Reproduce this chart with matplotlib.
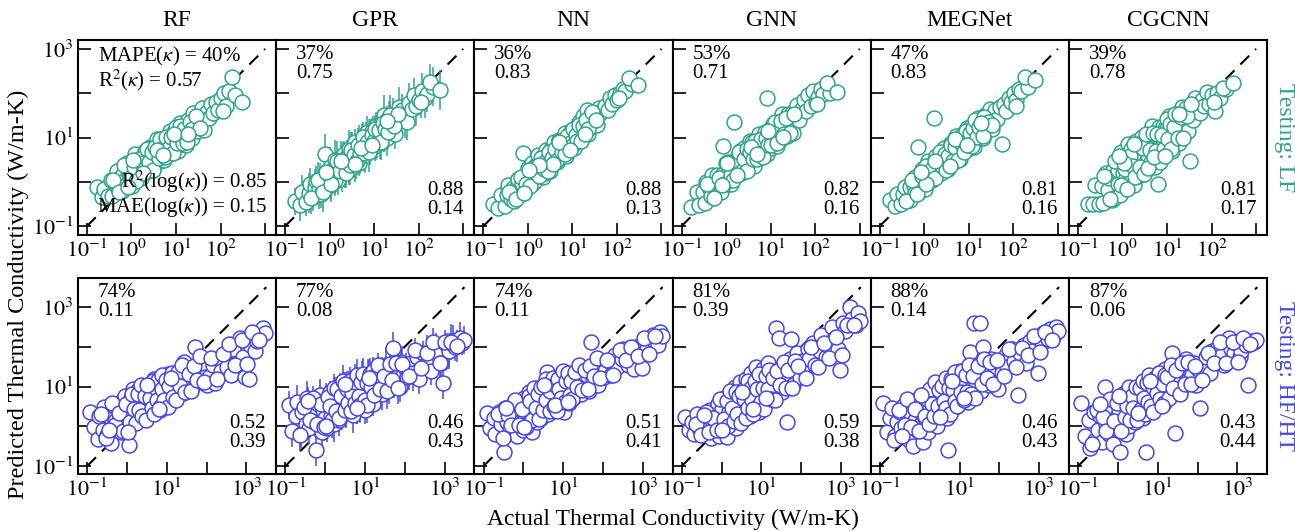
import numpy as np
import matplotlib.pyplot as plt
from matplotlib.ticker import FixedLocator, FixedFormatter, NullLocator

plt.rcParams['font.family'] = ['Liberation Serif', 'DejaVu Serif']
plt.rcParams['mathtext.fontset'] = 'stix'

models = ['RF', 'GPR', 'NN', 'GNN', 'MEGNet', 'CGCNN']

# metrics: MAPE(k), R2(k), R2(log k), MAE(log k)
lf_mape = ['40%', '37%', '36%', '53%', '47%', '39%']
lf_r2 = ['0.57', '0.75', '0.83', '0.71', '0.83', '0.78']
lf_r2log = ['0.85', '0.88', '0.88', '0.82', '0.81', '0.81']
lf_maelog = ['0.15', '0.14', '0.13', '0.16', '0.16', '0.17']
hf_mape = ['74%', '77%', '74%', '81%', '88%', '87%']
hf_r2 = ['0.11', '0.08', '0.11', '0.39', '0.14', '0.06']
hf_r2log = ['0.52', '0.46', '0.51', '0.59', '0.46', '0.43']
hf_maelog = ['0.39', '0.43', '0.41', '0.38', '0.43', '0.44']

# LF test set, log10 of actual conductivity (same for every model)
lf_x = [-0.78, -0.66, -0.61, -0.52, -0.47, -0.44, -0.37, -0.33, -0.31, -0.24,
        -0.21, -0.2, -0.14, -0.11, -0.09, -0.06, -0.03, 0.01, 0.02, 0.07,
        0.09, 0.12, 0.13, 0.17, 0.19, 0.22, 0.26, 0.27, 0.31, 0.33,
        0.34, 0.38, 0.41, 0.43, 0.44, 0.49, 0.51, 0.53, 0.56, 0.58, 0.59, 0.63, 0.66,
        0.67, 0.71, 0.72, 0.74, 0.79, 0.81, 0.83, 0.86, 0.88, 0.91, 0.92, 0.96,
        0.98, 1.01, 1.04, 1.05, 1.09, 1.12, 1.14, 1.17, 1.21, 1.23, 1.26,
        1.29, 1.33, 1.36, 1.38, 1.42, 1.47, 1.51, 1.55, 1.59, 1.63, 1.7,
        1.74, 1.79, 1.84, 1.9, 1.95, 2.01, 2.07, 2.13, 2.18, 2.05, 2.33, 2.26, 2.48,
        -0.42, -0.27, -0.16, -0.04, 0.05, 0.11, 0.16, 0.24, 0.29, 0.36,
        0.4, 0.46, 0.48, 0.54, 0.61, 0.64, 0.69, 0.76, 0.78, 0.84,
        0.89, 0.94, 0.99, 1.02, 1.07, 1.1, 1.15, 1.19, 1.24, 1.31,
        1.35, 1.44, 1.53, 0.57, 0.25, 0.7, 0.95, 0.03, 1.28, -0.08]

# predicted, log10
lf_rf = [-0.12, -0.35, -0.16, -0.33, 0.05, -0.33, -0.05, 0.25, -0.15, 0.1,
         -0.21, 0.17, 0.05, 0.42, -0.05, 0.18, 0.4, -0.09, 0.3, 0.13,
         0.62, 0.27, 0.08, 0.48, 0.39, 0.09, 0.58, 0.32, 0.69, 0.3,
         0.56, 0.24, 0.79, 0.46, 0.68, 0.27, 0.62, 0.82, 0.48, 0.97, 0.62, 0.47, 0.82,
         0.96, 0.63, 0.74, 0.49, 0.97, 0.87, 0.66, 1.15, 0.78, 1.02, 0.65, 1.12,
         0.82, 1.18, 0.7, 1.07, 1.32, 0.99, 0.86, 1.24, 1.13, 0.82, 1.4,
         1.07, 1.32, 1.0, 1.56, 1.32, 1.15, 1.53, 1.31, 1.67, 1.17, 1.58,
         1.45, 1.75, 1.55, 1.8, 1.62, 1.9, 2.0, 1.7, 2.05, 1.6, 1.95, 2.37, 1.8,
         0.03, -0.22, 0.39, 0.09, 0.34, 0.01, 0.52, 0.42, 0.26, 0.73,
         0.45, 0.67, 0.26, 0.79, 0.54, 0.96, 0.74, 0.57, 1.01, 0.77,
         1.01, 0.65, 1.24, 0.87, 1.06, 1.27, 0.88, 1.19, 0.89, 1.34,
         1.19, 1.48, 1.21, 0.71, 0.19, 0.61, 1.09, 0.5, 1.08, -0.12]
lf_gpr = [-0.44, -0.53, -0.24, -0.46, -0.26, -0.04, -0.35, -0.11, 0.01, -0.17,
          0.02, -0.28, 0.03, 0.62, -0.13, 0.23, -0.01, 0.33, -0.08, 0.2,
          0.32, 0.05, 0.49, 0.2, 0.05, 0.39, 0.53, 0.22, 0.37, 0.63,
          0.22, 0.55, 0.41, 0.73, 0.27, 0.59, 0.73, 0.45, 0.61, 0.89, 0.46, 0.75, 0.43,
          0.84, 0.72, 0.95, 0.65, 0.6, 0.89, 1.13, 0.8, 1.01, 0.72, 0.96, 1.14,
          1.08, 0.81, 1.27, 0.94, 1.11, 0.87, 1.28, 1.13, 1.51, 1.03, 1.31,
          0.99, 1.47, 1.32, 1.13, 1.5, 1.09, 1.49, 1.68, 1.38, 1.63, 1.4,
          1.35, 1.78, 1.65, 1.95, 1.7, 1.85, 2.05, 1.9, 1.98, 1.8, 2.15, 2.26, 2.08,
          -0.37, 0.04, -0.24, 0.18, 0.14, 0.04, 0.46, 0.25, 0.5, 0.2,
          0.53, 0.38, 0.72, 0.6, 0.46, 0.82, 0.63, 1.01, 0.65, 0.9,
          0.68, 1.05, 0.93, 1.2, 0.88, 1.17, 0.89, 1.33, 1.19, 1.13,
          1.51, 1.27, 1.53, 0.4, 0.48, 0.76, 0.82, -0.05, 1.37, 0.23]
lf_gpr_err = [0.3, 0.35, 0.4, 0.3, 0.45, 0.35, 0.3, 0.4, 0.35, 0.45,
              0.4, 0.3, 0.35, 0.45, 0.3, 0.4, 0.35, 0.45, 0.3, 0.4,
              0.35, 0.3, 0.45, 0.4, 0.35, 0.3, 0.4, 0.45, 0.35, 0.3,
              0.35, 0.4, 0.3, 0.45, 0.35, 0.3, 0.4, 0.35, 0.45, 0.3, 0.4, 0.35, 0.3,
              0.45, 0.4, 0.35, 0.3, 0.4, 0.45, 0.35, 0.3, 0.4, 0.35, 0.45, 0.3,
              0.4, 0.35, 0.3, 0.45, 0.4, 0.35, 0.3, 0.4, 0.45, 0.35, 0.3,
              0.4, 0.35, 0.45, 0.3, 0.4, 0.35, 0.3, 0.45, 0.4, 0.35, 0.4,
              0.4, 0.45, 0.35, 0.4, 0.45, 0.35, 0.4, 0.45, 0.4, 0.35, 0.45, 0.4, 0.45,
              0.35, 0.4, 0.45, 0.3, 0.4, 0.35, 0.45, 0.3, 0.4, 0.35,
              0.3, 0.45, 0.4, 0.35, 0.3, 0.4, 0.45, 0.35, 0.4, 0.3,
              0.45, 0.35, 0.4, 0.3, 0.35, 0.45, 0.4, 0.3, 0.35, 0.4,
              0.45, 0.35, 0.3, 0.4, 0.35, 0.45, 0.3, 0.4, 0.35, 0.45]
lf_nn = [-0.5, -0.6, -0.29, -0.55, -0.3, -0.07, -0.39, -0.13, -0.44, -0.12,
         0.06, -0.28, -0.03, 0.66, -0.25, 0.12, -0.03, 0.31, -0.03, 0.11,
         0.43, -0.02, 0.25, 0.01, 0.37, 0.6, 0.17, 0.35, 0.56, 0.1,
         0.46, 0.2, 0.71, 0.37, 0.6, 0.24, 0.57, 0.74, 0.43, 0.9, 0.54, 0.75, 0.44,
         0.71, 0.95, 0.61, 0.91, 0.6, 0.88, 1.11, 0.59, 0.86, 1.04, 0.78, 1.15,
         0.8, 1.08, 0.76, 1.22, 1.07, 0.96, 1.35, 0.93, 1.24, 1.48, 1.11,
         1.38, 1.63, 1.08, 1.37, 1.54, 1.28, 1.54, 1.28, 1.66, 1.55, 1.66,
         1.7, 1.62, 1.9, 1.75, 1.95, 1.85, 2.0, 2.1, 2.05, 1.88, 2.2, 2.35, 2.19,
         -0.22, -0.38, 0.1, -0.04, -0.1, 0.31, 0.24, 0.13, 0.54, 0.28,
         0.48, 0.25, 0.67, 0.53, 0.75, 0.46, 0.92, 0.67, 0.87, 0.62,
         1.03, 0.87, 0.8, 1.19, 1.05, 0.92, 1.29, 0.92, 1.27, 1.4,
         1.19, 1.57, 1.4, 0.41, 0.38, 0.89, 0.72, 0.26, 1.09, -0.26]
lf_gnn = [-0.56, -0.24, -0.52, -0.22, -0.48, 0.0, -0.17, -0.31, 0.16, -0.13,
          0.16, -0.23, 0.05, -0.22, 0.16, 0.8, -0.01, 0.43, -0.06, 0.24,
          0.38, -0.06, 0.33, 1.34, 0.26, 0.16, 0.59, 0.27, 0.7, 0.2,
          0.21, 0.59, 0.77, 0.39, 0.54, 0.29, 0.75, 0.92, 0.45, 0.61, 0.9, 0.36, 0.78,
          0.91, 0.67, 0.53, 1.07, 0.87, 0.59, 1.01, 0.75, 1.12, 1.9, 0.62, 1.06,
          1.15, 0.76, 1.05, 1.31, 0.9, 1.17, 0.81, 1.33, 1.15, 0.97, 1.52,
          1.12, 1.4, 1.03, 1.54, 1.28, 1.55, 1.1, 1.54, 1.73, 1.39, 1.64,
          1.85, 1.6, 1.95, 1.7, 2.05, 1.8, 1.92, 2.1, 1.98, 1.75, 2.0, 2.24, 2.03,
          -0.04, -0.36, 0.08, -0.06, 0.44, 0.16, 0.04, 0.47, 0.67, 0.25,
          0.51, 0.73, 0.25, 0.68, 0.52, 0.92, 0.51, 0.77, 0.96, 0.57,
          1.0, 0.84, 1.2, 0.83, 1.11, 1.36, 0.88, 1.17, 1.37, 1.09,
          1.43, 1.1, 1.52, 0.78, 0.15, 0.62, 1.15, 0.43, 1.01, -0.07]
lf_megnet = [-0.4, -0.55, -0.28, -0.5, -0.28, -0.11, -0.4, -0.11, -0.41, -0.09,
             -0.25, 0.1, 0.78, -0.22, 0.08, 0.28, -0.05, -0.16, 0.25, 0.14,
             0.46, 0.07, 0.29, 0.03, 0.42, 1.45, 0.23, 0.58, 0.17, 0.42,
             0.5, 0.21, 0.69, 0.41, 0.77, 0.36, 0.58, 0.3, 0.75, 0.59, 0.88, 0.51, 0.81,
             0.45, 0.78, 1.04, 0.63, 0.98, 0.51, 0.86, 1.09, 0.7, 0.98, 0.84, 1.22,
             0.74, 1.07, 1.25, 0.9, 1.09, 0.79, 1.28, 1.06, 1.44, 0.98, 1.31,
             1.22, 1.0, 1.5, 1.39, 1.18, 1.65, 1.19, 1.49, 1.63, 1.41, 1.68,
             0.85, 1.75, 1.6, 1.9, 1.8, 2.0, 1.85, 2.1, 2.05, 1.7, 2.15, 2.37, 2.3,
             -0.43, 0.04, -0.28, 0.14, 0.36, 0.06, 0.27, 0.09, 0.5, 0.68,
             0.35, 0.62, 0.26, 0.58, 0.84, 0.48, 0.79, 0.49, 0.95, 0.86,
             0.68, 1.15, 0.89, 1.1, 0.8, 1.21, 1.39, 1.01, 1.23, 1.03,
             1.47, 1.35, 1.29, 0.36, 0.48, 0.96, 0.82, -0.05, 1.33, 0.23]
lf_cgcnn = [-0.5, -0.51, -0.07, -0.49, -0.1, -0.47, 0.19, -0.18, 0.09, -0.4,
            0.27, -0.37, 0.48, -0.04, 0.27, -0.3, 0.67, 0.21, -0.08, 0.59,
            0.08, 0.85, -0.04, 0.39, 0.73, 0.14, 0.62, -0.07, 0.91, 0.43,
            0.14, 0.82, 0.4, 1.02, 0.62, 0.17, 0.83, 0.45, 1.08, 0.59, 0.85, 0.34, 1.26,
            0.72, 0.5, 1.06, 0.33, -0.05, 1.24, 0.66, 0.93, 0.6, 1.27, 0.83, 1.22,
            1.18, 0.71, 1.48, 0.94, 1.38, 0.7, 1.22, 1.49, 0.98, 1.25, 0.87,
            1.5, 1.68, 1.16, 1.32, 1.66, 1.15, 0.48, 1.67, 1.4, 1.89, 1.65,
            1.55, 1.85, 1.7, 2.03, 1.75, 1.95, 1.6, 2.0, 1.9, 1.8, 2.1, 2.12, 2.24,
            0.14, -0.38, 0.46, -0.08, 0.29, -0.16, 0.59, 0.35, 0.12, 0.86,
            0.34, 0.76, 0.18, 1.09, 0.72, 0.44, 1.1, 0.7, 1.09, 0.44,
            1.06, 0.75, 1.41, 0.97, 1.31, 0.74, 1.23, 1.54, 0.98, 1.46,
            1.0, 1.49, 1.75, 0.31, 0.86, 0.57, 0.58, 0.42, 1.54, 0.58]

# HF/HT test set, log10 of actual conductivity
hf_x = [-0.92, -0.83, -0.74, -0.7, -0.61, -0.57, -0.49, -0.46, -0.41, -0.33, -0.29,
        -0.26, -0.23, -0.18, -0.16, -0.13, -0.08, -0.06, -0.01, 0.02, 0.04, 0.09, 0.11,
        0.14, 0.19, 0.21, 0.24, 0.29, 0.32, 0.34, 0.37, 0.42, 0.44, 0.47, 0.52,
        0.54, 0.59, 0.61, 0.64, 0.69, 0.71, 0.73, 0.77, 0.81, 0.83, 0.86, 0.91,
        0.93, 0.96, 1.01, 1.03, 1.07, 1.09, 1.14, 1.17, 1.21, 1.24, 1.27, 1.32,
        1.36, 1.42, 1.44, 1.51, 1.53, 1.6, 1.64, 1.71, 1.74, 1.8, 1.87, 1.9, 1.96, 2.02,
        2.06, 2.16, 2.2, 2.31, 2.36, 2.47, 2.51, 2.62, 2.66, 2.78,
        2.83, 2.92, 2.97, 3.06, 3.1, 3.22, 3.27, 3.38, 3.43, 3.48,
        -0.64, -0.52, -0.38, -0.31, -0.21, -0.11, -0.03, 0.07, 0.13, 0.17,
        0.22, 0.27, 0.31, 0.36, 0.39, 0.45, 0.49, 0.56, 0.57, 0.62,
        0.66, 0.67, 0.74, 0.76, 0.79, 0.84, 0.88, 0.89, 0.94, 0.99,
        1.04, 1.06, 1.12, 1.16, 1.19, 1.23, 1.29, 1.34, 1.39, 1.47,
        1.56, 1.62, 1.68, 1.77, 1.84, 1.93, 2.11, 2.25, 2.42, 2.57,
        2.71, 2.88, 3.02, 3.15, 3.32, 0.02, 0.51, 0.8, 1.11, -0.44]

hf_rf = [0.36, -0.01, -0.31, 0.26, -0.09, 0.49, -0.22, 0.25, -0.42, 0.52, 0.14,
         -0.09, 0.47, 0.25, -0.14, 0.63, 0.16, 0.77, 0.09, 0.46, -0.47, 0.7, 0.31,
         0.93, 0.1, 0.67, 0.43, 0.91, 0.23, 0.69, 0.35, 0.93, 0.59, 0.21, 0.89,
         0.75, 0.32, 0.99, 0.55, 1.18, 0.69, 0.45, 0.97, 0.8, 0.41, 1.17, 0.95,
         0.66, 1.16, 0.81, 1.32, 0.59, 1.0, 1.2, 0.74, 1.14, 0.95, 1.35, 0.9,
         1.3, 0.83, 1.62, 1.05, 1.4, 0.95, 1.2, 2.0, 1.1, 1.45, 1.15, 1.6, 1.25, 1.05,
         1.25, 1.55, 1.1, 1.7, 1.4, 1.85, 1.5, 1.3, 1.95, 1.6,
         2.22, 1.75, 1.24, 1.2, 2.05, 1.9, 2.15, 2.3, 2.47, 2.35,
         0.3, -0.29, 0.59, 0.03, 0.33, -0.13, 0.55, 0.11, 0.82, 0.44,
         0.09, 0.82, 0.4, 1.03, 0.26, 0.75, 0.17, 1.01, 0.71, 0.47,
         1.13, 0.32, 0.96, 0.67, 1.16, 0.49, 0.95, 1.3, 0.67, 1.17,
         0.48, 1.01, 1.33, 0.74, 1.18, 0.65, 1.36, 1.01, 1.55, 0.86,
         1.31, 0.88, 1.52, 1.17, 1.76, 1.11, 1.71, 1.19, 1.83, 2.06,
         1.54, 2.18, 1.56, 2.38, 2.18, -0.14, 1.03, 0.44, 1.21, -0.09]
hf_gpr = [0.53, -0.12, 0.25, 0.6, -0.2, 0.35, 0.05, 0.7, -0.05, 0.4, 0.12,
          0.3, -0.6, 0.55, 0.1, 0.78, -0.15, 0.42, 0.2, 0.68, -0.05, 0.5, 0.85,
          0.25, 0.6, 0.05, 0.95, 0.4, 0.72, 0.15, 0.88, 0.3, 1.02, 0.55, 0.35,
          0.8, 0.45, 1.1, 0.62, 0.28, 0.95, 0.7, 1.18, 0.5, 0.88, 1.05, 0.6,
          1.25, 0.78, 0.42, 1.0, 1.3, 0.7, 0.92, 1.15, 0.55, 1.08, 0.85, 1.28,
          1.05, 1.4, 0.8, 1.22, 1.55, 0.95, 1.35, 1.97, 1.15, 1.48, 1.0, 1.62, 1.3, 1.45,
          1.25, 1.6, 1.35, 1.75, 1.2, 1.85, 1.55, 1.7, 1.4, 1.95,
          1.8, 1.6, 1.09, 2.05, 1.9, 2.15, 2.0, 2.22, 2.1, 2.18,
          -0.22, 0.49, 0.16, 0.72, 0.07, 0.55, -0.01, 0.74, 0.52, 0.16,
          0.96, 0.39, 0.93, 0.21, 0.75, 1.13, 0.4, 0.93, 0.59, 1.14,
          0.38, 0.84, 1.12, 0.58, 1.29, 0.77, 0.54, 1.12, 1.32, 0.65,
          1.09, 0.53, 1.31, 0.98, 1.4, 0.79, 1.28, 1.54, 0.95, 1.27,
          0.88, 1.56, 1.17, 1.59, 0.97, 1.57, 1.26, 1.93, 1.46, 1.84,
          2.11, 1.59, 2.11, 2.13, 2.01, 0.01, 1.06, 0.47, 1.21, 0.63]
hf_gpr_err = [0.35, 0.4, 0.3, 0.45, 0.35, 0.4, 0.3, 0.45, 0.4, 0.35, 0.3,
              0.45, 0.4, 0.35, 0.3, 0.4, 0.45, 0.35, 0.3, 0.4, 0.35, 0.45, 0.3,
              0.4, 0.35, 0.45, 0.3, 0.4, 0.35, 0.3, 0.45, 0.4, 0.35, 0.3, 0.4,
              0.45, 0.35, 0.3, 0.4, 0.45, 0.35, 0.4, 0.3, 0.45, 0.35, 0.4, 0.3,
              0.4, 0.45, 0.35, 0.3, 0.4, 0.45, 0.35, 0.4, 0.3, 0.45, 0.35, 0.4,
              0.45, 0.35, 0.4, 0.3, 0.45, 0.4, 0.35, 0.4, 0.45, 0.35, 0.4, 0.3, 0.45, 0.4,
              0.35, 0.4, 0.45, 0.35, 0.4, 0.3, 0.45, 0.4, 0.35, 0.4,
              0.45, 0.35, 0.4, 0.3, 0.45, 0.4, 0.35, 0.4, 0.3, 0.35,
              0.4, 0.35, 0.45, 0.3, 0.4, 0.45, 0.35, 0.3, 0.4, 0.45,
              0.35, 0.4, 0.3, 0.45, 0.35, 0.4, 0.3, 0.45, 0.4, 0.35,
              0.3, 0.4, 0.45, 0.35, 0.4, 0.3, 0.45, 0.35, 0.4, 0.3,
              0.35, 0.45, 0.4, 0.3, 0.35, 0.4, 0.45, 0.3, 0.4, 0.35,
              0.45, 0.4, 0.3, 0.35, 0.4, 0.45, 0.35, 0.3, 0.4, 0.45,
              0.35, 0.4, 0.3, 0.45, 0.4, 0.35, 0.3, 0.4, 0.45, 0.35]
hf_nn = [0.33, -0.05, 0.2, -0.2, 0.35, 0.05, -0.65, 0.45, 0.1, -0.1, 0.28,
         0.55, 0.0, 0.3, -0.25, 0.62, 0.15, 0.4, -0.1, 0.72, 0.25, 0.05, 0.5,
         0.85, 0.18, -0.15, 0.6, 0.35, 0.95, 0.1, 0.48, 0.75, 0.22, 1.0, 0.4,
         0.65, 1.37, 0.3, 0.85, 0.55, 1.1, 0.4, 0.95, 0.7, 1.2, 0.5, 0.88,
         1.05, 0.62, 0.35, 1.15, 0.8, 1.3, 0.58, 0.98, 1.22, 0.72, 0.9, 1.12,
         0.95, 1.25, 0.8, 1.4, 1.1, 1.3, 0.9, 2.12, 1.2, 1.5, 1.05, 1.35, 1.62, 1.25,
         1.4, 1.65, 1.3, 1.8, 1.5, 1.7, 1.95, 1.55, 1.85, 1.45,
         2.0, 1.75, 1.46, 2.1, 1.95, 2.2, 2.3, 2.05, 2.37, 2.28,
         0.3, -0.29, 0.29, 0.03, 0.66, 0.04, 0.43, -0.01, 0.77, 0.64,
         0.17, 0.97, 0.47, 0.8, 0.19, 1.0, 0.42, 1.19, 0.66, 1.02,
         0.38, 0.89, 1.21, 0.52, 1.03, 0.38, 1.18, 0.94, 0.72, 1.39,
         0.62, 1.13, 1.34, 0.79, 1.15, 0.68, 1.36, 0.99, 1.54, 0.91,
         1.41, 0.94, 1.52, 1.27, 1.71, 1.21, 1.66, 1.29, 1.93, 1.66,
         1.99, 1.78, 2.21, 1.83, 2.28, -0.01, 1.04, 0.54, 0.61, 0.46]
hf_gnn = [0.23, -0.1, 0.12, -0.2, 0.3, -0.05, 0.05, -0.18, 0.2, -0.08, 0.4,
          -0.3, 0.15, -0.12, 0.35, 0.0, 0.55, -0.25, 0.2, 0.45, -0.1, 0.7, 0.1,
          -0.28, 0.38, 0.85, 0.05, 0.5, 0.22, 1.0, -0.05, 0.62, 0.3, 1.12, 0.15,
          0.75, 0.4, 1.2, 0.55, 0.95, 0.25, 1.35, 0.65, 1.05, 0.45, 1.5, 0.85,
          0.35, 1.15, 0.7, 1.45, 0.9, 0.55, 1.25, 1.6, 0.8, 1.1, 1.4, 0.95,
          2.47, 1.15, 2.22, 0.85, 1.5, 1.3, 0.1, 1.7, 2.2, 1.05, 1.55, 1.85, 1.25, 1.65,
          1.45, 1.95, 1.7, 2.1, 1.55, 1.9, 2.3, 1.75, 2.05, 2.5,
          2.2, 1.95, 1.42, 2.6, 2.4, 3.0, 2.7, 2.55, 2.85, 2.65,
          0.07, -0.21, 0.37, -0.14, 0.22, -0.1, 0.68, 0.19, 0.63, 0.0,
          0.88, 0.46, 0.14, 0.87, 0.3, 0.77, 0.09, 0.94, 0.69, 0.22,
          1.13, 0.45, 0.97, 0.66, 0.3, 1.15, 0.93, 0.48, 1.31, 0.62,
          0.97, 0.44, 1.27, 0.95, 1.41, 0.69, 1.22, 0.65, 1.38, 1.03,
          1.61, 0.97, 1.41, 0.96, 1.65, 1.51, 1.22, 2.0, 1.5, 2.09,
          1.73, 2.25, 1.8, 2.55, 2.55, -0.09, 0.86, 0.43, 0.72, 0.29]
hf_megnet = [0.58, -0.15, 0.2, 0.45, -0.25, 0.1, 0.35, -0.05, 0.5, 0.0, 0.25,
             -0.35, 0.3, 0.6, -0.5, 0.15, 0.45, -0.1, 0.7, 0.05, 0.35, -0.4, 0.55,
             0.2, 0.8, -0.15, 0.4, 0.9, 0.1, 0.62, 0.3, 1.0, 0.0, 0.5, 0.75,
             0.35, 0.95, 0.6, 1.1, 0.2, -0.6, 0.8, 1.2, 0.45, 1.0, 0.65, 1.3,
             0.5, 0.9, 1.4, 0.7, 1.05, 1.25, 0.85, 1.15, 0.6, 1.0, 1.87, 1.35,
             2.6, 1.1, 1.45, 2.6, 0.9, 2.0, 1.3, 1.55, 1.05, 1.7, 1.25, 1.45, 0.95, 1.6,
             1.35, 1.8, 1.5, 1.95, 1.65, 0.79, 1.85, 2.05, 1.6, 2.15,
             1.9, 2.25, 1.33, 2.1, 2.35, 2.2, 2.45, 2.3, 2.5, 2.4,
             -0.35, 0.41, 0.04, 0.68, -0.02, 0.44, -0.12, 0.79, 0.27, 0.69,
             0.07, 0.95, 0.57, 0.25, 1.11, 0.5, 0.92, 0.29, 1.01, 0.64,
             1.21, 0.47, 0.96, 0.32, 1.18, 0.91, 0.63, 1.37, 0.52, 1.14,
             0.87, 1.38, 0.67, 1.29, 0.85, 1.53, 0.81, 1.26, 0.71, 1.51,
             1.06, 1.69, 1.22, 1.62, 1.06, 1.66, 1.26, 1.94, 1.48, 1.96,
             1.79, 2.28, 1.86, 2.38, 2.18, 0.79, 0.23, 1.14, 0.71, -0.24]
hf_cgcnn = [0.58, -0.25, 0.15, -0.55, 0.35, -0.35, -0.1, 0.25, -0.4, 1.0, 0.05,
            0.3, -0.2, 0.5, 0.05, -0.45, 0.65, 0.2, -0.1, 0.4, -0.65, 0.75, 0.1,
            0.55, -0.2, 0.85, 0.3, 0.0, 0.65, 0.2, 0.95, 0.45, 0.1, 0.7, 0.35,
            0.9, 0.5, 1.05, 0.2, 0.75, -0.65, 0.6, 1.15, 0.4, 0.95, 0.7, 1.25,
            0.5, 1.05, 0.85, 1.35, 0.6, 1.1, 0.9, 1.45, 0.75, 1.2, 1.0, 1.3,
            1.84, 0.9, -0.17, 1.25, 1.55, 1.0, 1.4, 1.7, 1.15, 1.5, 1.3, 1.6, 1.05, 1.45,
            0.46, 1.5, 1.75, 1.35, 1.9, 1.65, 2.0, 1.8, 1.55, 2.22,
            1.95, 1.85, 2.1, 1.75, 1.9, 2.05, 1.04, 2.15, 2.12, 2.18,
            -0.45, 0.41, 0.24, -0.12, 0.68, 0.14, 0.58, -0.11, 0.82, 0.24,
            0.52, 0.98, 0.17, 0.75, 0.46, 0.98, 0.17, 0.96, 0.44, 1.14,
            0.71, 0.32, 1.08, 0.62, 1.28, 0.51, 0.98, 0.36, 1.22, 0.84,
            1.34, 0.68, 1.07, 0.59, 1.3, 1.23, 0.71, 1.54, 0.96, 1.41,
            0.81, 1.59, 1.07, 1.62, 1.06, 1.51, 1.16, 1.84, 1.58, 2.11,
            1.59, 2.13, 1.61, 2.23, 2.08, 0.76, 0.33, 1.14, 0.51, 0.56]

teal = '#2fa48a'
blue = '#4747e3'

rows = [
    dict(x=lf_x, ys=[lf_rf, lf_gpr, lf_nn, lf_gnn, lf_megnet, lf_cgcnn], err=lf_gpr_err,
         mape=lf_mape, r2=lf_r2, r2log=lf_r2log, mae=lf_maelog, color=teal,
         lim=(-1.2, 3.2), xlim=(-1.2, 3.25), diag=3.0,
         xlabels=['$10^{-1}$', '$10^{0}$', '$10^{1}$', '$10^{2}$', ''],
         label='Testing: LF'),
    dict(x=hf_x, ys=[hf_rf, hf_gpr, hf_nn, hf_gnn, hf_megnet, hf_cgcnn], err=hf_gpr_err,
         mape=hf_mape, r2=hf_r2, r2log=hf_r2log, mae=hf_maelog, color=blue,
         lim=(-1.2, 3.73), xlim=(-1.23, 3.75), diag=3.5,
         xlabels=['$10^{-1}$', '', '$10^{1}$', '', '$10^{3}$'],
         label='Testing: HF/HT'),
]

W, H = 1295, 531
fig = plt.figure(figsize=(W / 100, H / 100), dpi=100)

left = 78
pw = 198.2
row_px = [(40, 235), (278, 474)]
ticks = [0.1, 1, 10, 100, 1000]
ylabels = ['$10^{-1}$', '', '$10^{1}$', '', '$10^{3}$']

for r, row in enumerate(rows):
    top, bot = row_px[r]
    x = 10 ** np.array(row['x'])
    for c, m in enumerate(models):
        ax = fig.add_axes([(left + c * pw) / W, 1 - bot / H, pw / W, (bot - top) / H])
        ax.set_xscale('log')
        ax.set_yscale('log')
        y = 10 ** np.array(row['ys'][c])
        ax.plot([0.1, 10 ** row['diag']], [0.1, 10 ** row['diag']], color='black',
                lw=1.5, dashes=(6, 4), zorder=1)
        if m == 'GPR':
            e = np.array(row['err'])
            lo = y - y / 10 ** e
            hi = y * 10 ** e - y
            ax.errorbar(x, y, yerr=[lo, hi], fmt='none', ecolor=row['color'],
                        elinewidth=1.1, zorder=2)
        ax.scatter(x, y, s=115, facecolors='white', edgecolors=row['color'],
                   linewidths=1.1, zorder=3)
        ax.set_xlim(10 ** row['xlim'][0], 10 ** row['xlim'][1])
        ax.set_ylim(10 ** row['lim'][0], 10 ** row['lim'][1])

        ax.xaxis.set_major_locator(FixedLocator(ticks))
        ax.xaxis.set_major_formatter(FixedFormatter(row['xlabels']))
        ax.yaxis.set_major_locator(FixedLocator(ticks))
        ax.yaxis.set_major_formatter(FixedFormatter(ylabels if c == 0 else [''] * 5))
        ax.xaxis.set_minor_locator(NullLocator())
        ax.yaxis.set_minor_locator(NullLocator())
        ax.tick_params(direction='in', length=9, width=1.2, labelsize=16, pad=3)
        for s in ax.spines.values():
            s.set_linewidth(1.5)

        if r == 0:
            ax.set_title(m, fontsize=17, pad=10)

        if r == 0 and c == 0:
            ax.text(0.1, 0.975, 'MAPE($\\kappa$) = ' + row['mape'][c] + '\n'
                    + 'R$^2$($\\kappa$) = ' + row['r2'][c],
                    transform=ax.transAxes, ha='left', va='top', fontsize=15,
                    linespacing=1.0)
            ax.text(0.955, 0.08, 'R$^2$(log($\\kappa$)) = ' + row['r2log'][c] + '\n'
                    + 'MAE(log($\\kappa$)) = ' + row['mae'][c],
                    transform=ax.transAxes, ha='right', va='bottom', fontsize=15,
                    linespacing=1.0)
        else:
            ax.text(0.1, 0.975, row['mape'][c] + '\n' + row['r2'][c],
                    transform=ax.transAxes, ha='left', va='top', fontsize=15,
                    linespacing=1.0)
            ax.text(0.945, 0.08 if r == 0 else 0.11, row['r2log'][c] + '\n' + row['mae'][c],
                    transform=ax.transAxes, ha='right', va='bottom', fontsize=15,
                    linespacing=1.0)

    fig.text(0.992, 1 - (top + bot) / 2 / H, row['label'], rotation=270,
             ha='center', va='center', fontsize=17, color=row['color'])

fig.text(0.014, 0.445, 'Predicted Thermal Conductivity (W/m-K)', rotation=90,
         ha='center', va='center', fontsize=17.5)
fig.text(0.52, 0.002, 'Actual Thermal Conductivity (W/m-K)', ha='center', va='bottom',
         fontsize=17)

fig.savefig('out.png', dpi=100)
